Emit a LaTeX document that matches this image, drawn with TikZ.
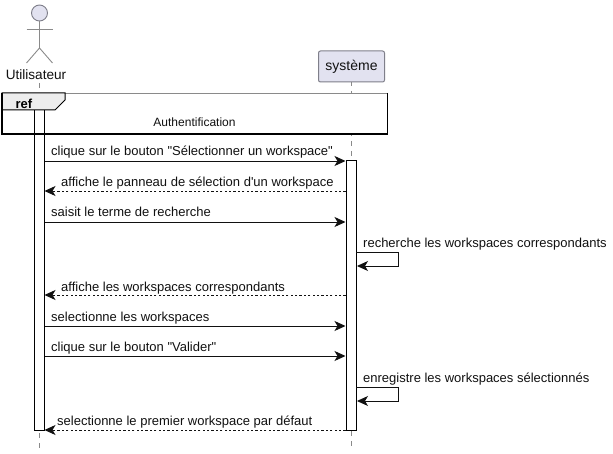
\documentclass[tikz,border=0pt]{standalone}
\usepackage{fontspec}
\setmainfont{Liberation Sans}[Ligatures=TeXOff]
\usetikzlibrary{arrows.meta}
\definecolor{partfill}{HTML}{E2E2F0}
\definecolor{partline}{HTML}{7F7F8A}
\definecolor{lifeline}{HTML}{8A8A8A}
\definecolor{txt}{HTML}{111111}
\tikzset{
  x=1pt,y=-1pt,
  lifedash/.style={draw=lifeline,line width=0.9pt,dash pattern=on 5pt off 5pt},
  activebar/.style={draw=black,fill=white,line width=1pt},
  msg/.style={draw=txt,line width=0.9pt,-{Stealth[length=11pt,width=10pt,inset=3pt]}},
  reply/.style={msg,densely dashed,dash pattern=on 2.2pt off 2.2pt},
  msgtext/.style={text=txt,font=\fontsize{13}{15}\selectfont,anchor=base west,inner sep=0pt},
  actorline/.style={draw=lifeline,line width=0.9pt},
}
\begin{document}
\begin{tikzpicture}
\useasboundingbox (0,0) rectangle (613,454);
\fill[white] (0,0) rectangle (613,454);
% lifelines
\coordinate (uTop) at (39.5,83);
\coordinate (uBot) at (39.5,448);
\coordinate (sTop) at (351.5,81);
\coordinate (sBot) at (351.5,448);
\draw[lifedash] (uTop) -- (uBot);
\draw[lifedash] (sTop) -- (sBot);
% actor
\node[circle,draw=partline,fill=partfill,line width=0.9pt,minimum size=16pt,inner sep=0pt] (head) at (39.5,13) {};
\coordinate (hip) at (39.5,48);
\coordinate (armL) at (26.5,29);
\coordinate (armR) at (52.5,29);
\coordinate (footL) at (26.5,63);
\coordinate (footR) at (52.5,63);
\draw[actorline] (head.south) -- (hip);
\draw[actorline] (armL) -- (armR);
\draw[actorline] (footL) -- (hip) -- (footR);
\node[text=txt,font=\fontsize{13.6}{16}\selectfont,inner sep=0pt,fill=white] (utilisateur) at (36,75) {Utilisateur};
% participant
\node[draw=partline,fill=partfill,rounded corners=2pt,line width=1pt,minimum width=66pt,minimum height=31pt,inner sep=0pt,font=\fontsize{14}{16}\selectfont,text=txt] (systeme) at (351.5,66.5) {système};
% ref frame background
\fill[white] (2,93) rectangle (387.5,134);
% activations
\node[activebar,minimum width=10pt,minimum height=320pt,inner sep=0pt] (uAct) at (39.5,270) {};
\node[activebar,minimum width=10pt,minimum height=269pt,inner sep=0pt] (sAct) at (351,295.5) {};
% ref frame on top
\draw[draw=lifeline,line width=0.8pt] (2,93) -- (387.5,93);
\draw[fill=black!7,draw=black,line width=1pt] (2,93) -- (65,93) -- (65,100) -- (55,110) -- (2,110) -- cycle;
\draw[black,line width=1.2pt] (387.5,93) -- (387.5,134) -- (2,134) -- (2,93);
\node[font=\bfseries\fontsize{13}{15}\selectfont,text=black,inner sep=0pt] (refl) at (24,104) {ref};
\node[msgtext,anchor=center,font=\fontsize{12}{14}\selectfont] (auth) at (194.5,122.5) {Authentification};
% anchors on activation bars
\foreach \n/\y in {a/161,b/191,c/222,d/295,e/326,f/356,g/430}{
  \coordinate (u\n) at (44.5,\y);
  \coordinate (s\n) at (345.5,\y);
}
\coordinate (r1a) at (356,252);\coordinate (r1b) at (398.5,252);\coordinate (r1c) at (398.5,266);\coordinate (r1d) at (357,266);
\coordinate (r2a) at (356,387);\coordinate (r2b) at (398.5,387);\coordinate (r2c) at (398.5,401);\coordinate (r2d) at (357,401);
% messages
\draw[msg] (ua) -- (sa);
\draw[reply] (sb) -- (ub);
\draw[msg] (uc) -- (sc);
\draw[msg] (r1a) -- (r1b) -- (r1c) -- (r1d);
\draw[reply] (sd) -- (ud);
\draw[msg] (ue) -- (se);
\draw[msg] (uf) -- (sf);
\draw[msg] (r2a) -- (r2b) -- (r2c) -- (r2d);
\draw[reply] (sg) -- (ug);
% labels
\node[msgtext] (m1) at (51,156) {clique sur le bouton "Sélectionner un workspace"};
\node[msgtext] (m2) at (61,187) {affiche le panneau de sélection d'un workspace};
\node[msgtext] (m3) at (51,217) {saisit le terme de recherche};
\node[msgtext] (m4) at (363,248) {recherche les workspaces correspondants};
\node[msgtext] (m5) at (61,291) {affiche les workspaces correspondants};
\node[msgtext] (m6) at (51,321) {selectionne les workspaces};
\node[msgtext] (m7) at (51,351) {clique sur le bouton "Valider"};
\node[msgtext] (m8) at (363,382) {enregistre les workspaces sélectionnés};
\node[msgtext] (m9) at (57,425) {selectionne le premier workspace par défaut};
\end{tikzpicture}
\end{document}
